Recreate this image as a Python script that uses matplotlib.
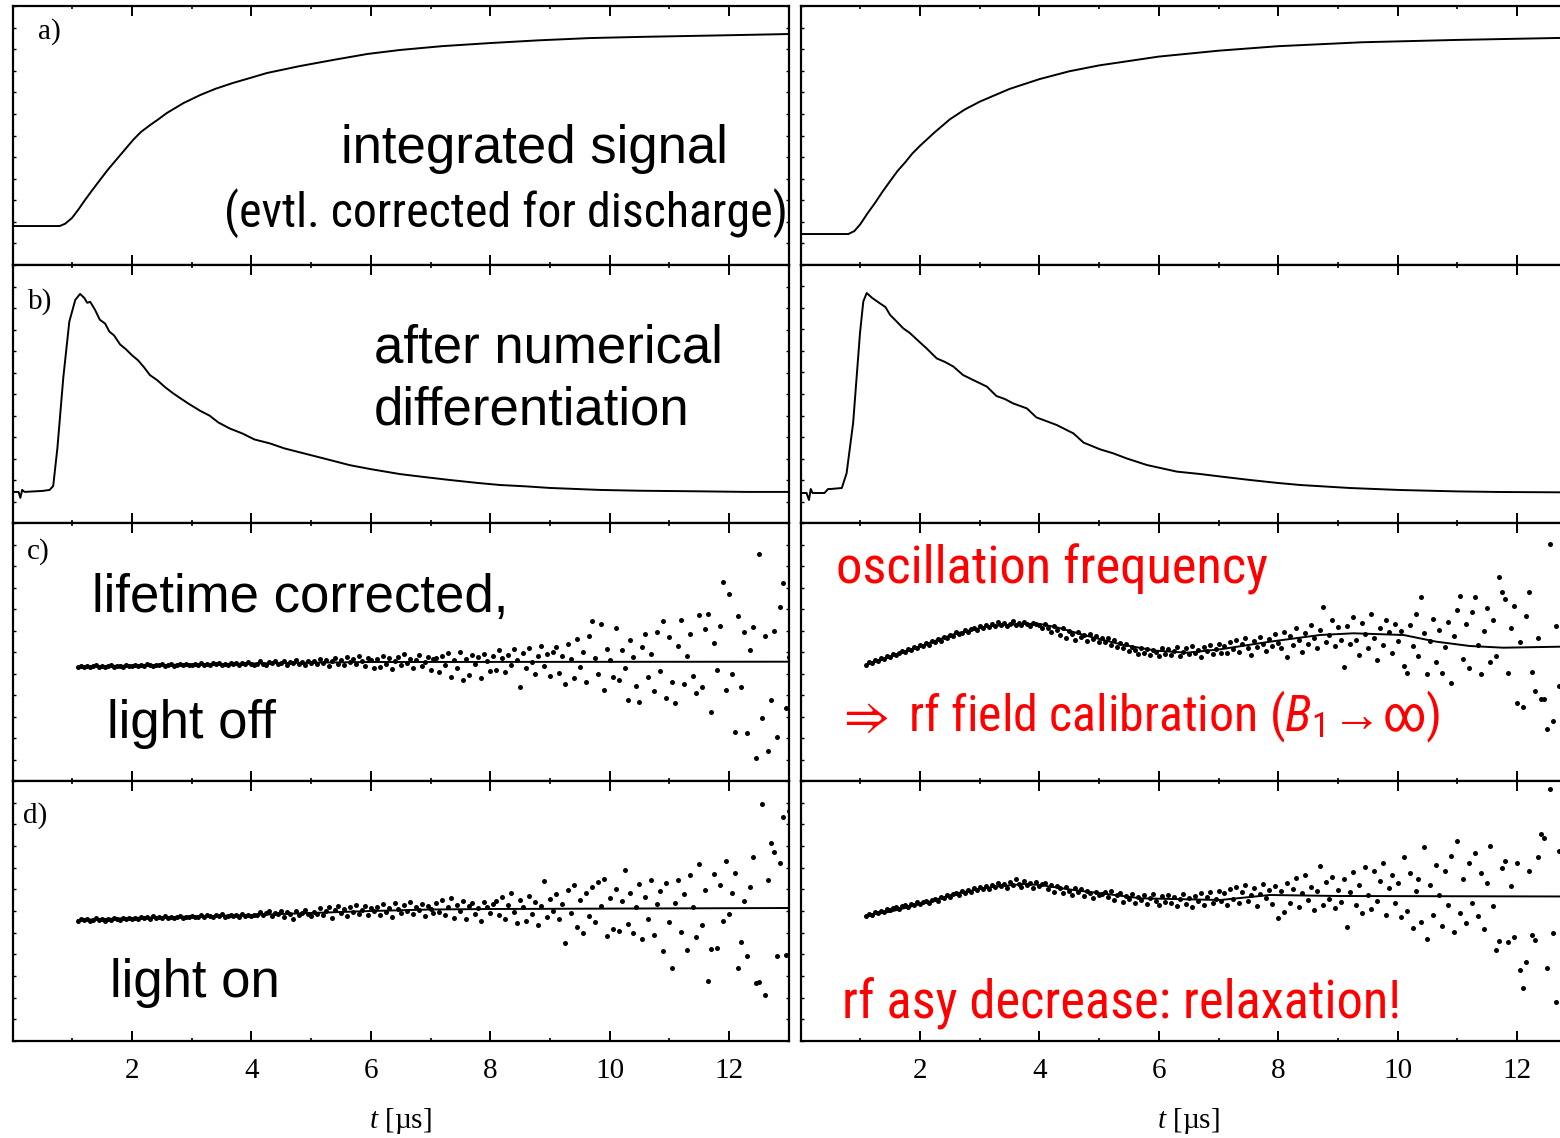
import numpy as np
import matplotlib
matplotlib.use('Agg')
import matplotlib.pyplot as plt
from matplotlib.ticker import MultipleLocator, LinearLocator, NullLocator
from matplotlib.font_manager import FontProperties, findfont


def pick_narrow():
    # a condensed sans face like Arial Narrow, if there is one
    for fam in ['Liberation Sans Narrow', 'Roboto Condensed', 'Open Sans Condensed']:
        try:
            findfont(FontProperties(family=fam), fallback_to_default=False)
            return fam, 'normal'
        except Exception:
            pass
    p = findfont(FontProperties(family='DejaVu Sans', stretch='condensed'))
    if 'Condensed' in p:
        return 'DejaVu Sans', 'condensed'
    return 'Liberation Sans', 'normal'


NARROW, STRETCH = pick_narrow()

plt.rcParams['mathtext.fontset'] = 'custom'
plt.rcParams['mathtext.rm'] = 'Liberation Serif'
plt.rcParams['mathtext.it'] = 'Liberation Serif:italic'
plt.rcParams['mathtext.sf'] = NARROW + ':italic' + (':condensed' if STRETCH == 'condensed' else '')
plt.rcParams['mathtext.tt'] = NARROW + (':condensed' if STRETCH == 'condensed' else '')
plt.rcParams['mathtext.fallback'] = 'stixsans'

# ---- a) integrated signal ----
a_left_t = [0.0, 0.79, 0.88, 0.995, 1.1, 1.2, 1.33, 1.464, 1.6, 1.75, 1.9, 2.017, 2.15, 2.3,
            2.45, 2.586, 2.86, 3.14, 3.4, 3.69, 4.0, 4.26, 4.81, 5.37, 5.94, 6.49, 7.2, 8.0,
            8.8, 9.67, 10.5, 11.35, 12.2, 13.0]
a_left_v = [0.0, 0.0, 0.012, 0.042, 0.085, 0.13, 0.185, 0.24, 0.295, 0.35, 0.405, 0.448, 0.49, 0.525,
            0.558, 0.589, 0.64, 0.682, 0.715, 0.745, 0.773, 0.797, 0.833, 0.865, 0.896, 0.917, 0.937, 0.953,
            0.967, 0.979, 0.985, 0.99, 0.995, 1.0]
a_right_t = [0.0, 0.8, 0.9, 1.0, 1.12, 1.25, 1.37, 1.5, 1.62, 1.75, 1.87, 2.0, 2.25, 2.5, 2.75,
             3.0, 3.5, 4.0, 4.5, 5.0, 6.0, 7.0, 8.0, 9.4, 11.0, 12.7, 13.0]
a_right_v = [0.0, 0.0, 0.015, 0.05, 0.105, 0.16, 0.215, 0.27, 0.32, 0.365, 0.41, 0.45, 0.52, 0.585, 0.635,
             0.675, 0.74, 0.79, 0.83, 0.86, 0.905, 0.935, 0.958, 0.978, 0.99, 1.0, 1.0]

# ---- b) numerical derivative ----
b_left_t = [0.0, 0.1, 0.13, 0.16, 0.2, 0.5, 0.62, 0.68, 0.75, 0.85, 0.95, 1.05, 1.13, 1.2,
            1.25, 1.3, 1.38, 1.46, 1.55, 1.62, 1.70, 1.80, 1.90, 2.0, 2.1, 2.2, 2.3, 2.42,
            2.55, 2.68, 2.80, 2.95, 3.14, 3.3, 3.45, 3.64, 3.85, 4.05, 4.31, 4.55, 4.81, 5.2,
            5.65, 6.0, 6.49, 6.9, 7.33, 7.8, 8.16, 8.6, 9.0, 9.84, 10.5, 11.5, 12.3, 13.0]
b_left_v = [0.0, 0.0, -0.03, 0.01, 0.0, 0.005, 0.01, 0.03, 0.22, 0.58, 0.86, 0.97, 1.0, 0.98,
            0.955, 0.96, 0.92, 0.87, 0.85, 0.81, 0.79, 0.745, 0.72, 0.69, 0.665, 0.63, 0.59, 0.565,
            0.53, 0.50, 0.475, 0.445, 0.41, 0.385, 0.35, 0.32, 0.295, 0.265, 0.245, 0.22, 0.20, 0.17,
            0.135, 0.115, 0.09, 0.075, 0.06, 0.045, 0.035, 0.028, 0.02, 0.01, 0.006, 0.003, 0.0, 0.0]
b_right_t = [0.0, 0.1, 0.14, 0.17, 0.2, 0.4, 0.46, 0.5, 0.69, 0.77, 0.88, 0.995, 1.05, 1.107,
             1.2, 1.33, 1.42, 1.50, 1.60, 1.72, 1.83, 1.945, 2.11, 2.28, 2.42, 2.56, 2.72, 2.89,
             3.12, 3.28, 3.42, 3.56, 3.79, 3.95, 4.29, 4.57, 4.74, 5.02, 5.24, 5.46, 5.80, 6.30,
             6.69, 7.1, 7.53, 8.0, 8.37, 9.2, 10.04, 11.0, 11.72, 13.0]
b_right_v = [0.0, 0.0, -0.035, 0.02, 0.0, 0.0, 0.02, 0.02, 0.025, 0.098, 0.35, 0.8, 0.957, 1.0,
             0.975, 0.948, 0.93, 0.89, 0.86, 0.823, 0.80, 0.768, 0.723, 0.673, 0.655, 0.632, 0.59, 0.565,
             0.532, 0.485, 0.47, 0.448, 0.423, 0.378, 0.34, 0.298, 0.252, 0.218, 0.198, 0.173, 0.14, 0.107,
             0.095, 0.08, 0.065, 0.05, 0.04, 0.025, 0.015, 0.008, 0.005, 0.003]

# ---- c), d) lifetime corrected asymmetry: fits and data ----
c_left_fit_t = [1.1, 2.0, 3.0, 4.0, 5.0, 6.0, 13.0]
c_left_fit_v = [-0.45, -0.35, -0.25, -0.15, -0.07, 0.0, 0.03]
d_left_fit_t = [1.1, 2.0, 3.0, 4.0, 5.0, 6.0, 7.0, 8.0, 13.0]
d_left_fit_v = [-1.1, -0.9, -0.75, -0.6, -0.4, -0.2, -0.05, 0.0, 0.1]
c_right_fit_t = [1.13, 1.50, 2.06, 2.61, 3.17, 3.73, 4.01, 4.29, 4.85, 5.41, 5.96, 6.47, 7.03,
                 7.86, 8.70, 9.26, 10.1, 10.65, 11.21, 11.77, 12.72, 13.0]
c_right_fit_v = [-1.33, -0.67, 0.5, 1.67, 2.4, 2.6, 2.6, 2.27, 1.33, 0.5, -0.07, -0.27, 0.07,
                 0.83, 1.5, 1.67, 1.5, 0.83, 0.4, 0.23, 0.33, 0.4]
d_right_fit_t = [1.13, 1.50, 2.06, 2.61, 3.17, 3.73, 4.01, 4.57, 5.13, 5.69, 6.47, 7.03, 7.86, 9.0, 13.0]
d_right_fit_v = [-1.8, -1.47, -0.63, 0.37, 0.97, 1.3, 1.2, 0.7, 0.3, -0.13, -0.23, -0.3, 0.2, 0.1, 0.05]

# data points sampled every 0.05 us starting at 1.10 us (one row = 1 us)
T0 = 1.10
DT = 0.05
c_left_pts = [
    -0.5, -0.4, -0.45, -0.35, -0.5, -0.4, -0.3, -0.45, -0.4, -0.5, -0.35, -0.3, -0.45, -0.4, -0.35, -0.45, -0.3, -0.4, -0.35, -0.3,
    -0.4, -0.25, -0.35, -0.2, -0.3, -0.4, -0.25, -0.3, -0.2, -0.35, -0.3, -0.2, -0.35, -0.25, -0.15, -0.3, -0.2, -0.3, -0.25, -0.15,
    -0.3, -0.1, -0.25, -0.15, -0.3, -0.1, -0.2, -0.05, -0.25, -0.15, -0.3, -0.1, -0.2, -0.05, -0.25, -0.1, -0.2, 0.0, -0.15, -0.25,
    -0.2, 0.1, -0.15, -0.3, 0.0, -0.1, 0.15, -0.2, -0.05, 0.1, -0.25, 0.0, -0.1, 0.2, -0.15, 0.05, -0.3, 0.1, -0.05, 0.15,
    -0.2, 0.3, -0.1, 0.2, -0.35, 0.1, 0.4, -0.15, 0.25, -0.3, 0.5, 0.0, 0.3, -0.2, 0.6, 0.1, -0.4, 0.45, 0.2, -0.6,
    0.3, -0.5, 0.6, -0.2, 0.4, -0.7, 0.1, 0.5, -0.3, 0.8, -0.1, 0.3, -0.6, 0.2, 0.7, -0.4, 0.0, 0.5, -0.8, 0.3,
    0.4, -1.0, 0.6, -0.3, 0.9, -1.5, 0.2, -0.6, 1.0, -1.8, 0.3, -1.3, 0.7, -0.2, 0.5, -1.6, 0.8, 0.1, -0.9, 0.6,
    -0.8, 1.2, 0.4, -1.0, 0.7, -0.3, 1.3, 0.2, -2.5, 0.9, -0.6, 1.4, 0.0, -1.2, 0.6, 1.6, -0.4, 0.8, -1.4, 1.0,
    1.5, -1.1, 0.6, -2.2, 1.8, 0.3, -1.6, 2.3, -0.5, 1.0, -2.0, 2.6, 4.1, 0.4, -1.2, 3.8, -2.8, 1.3, 0.2, -1.5,
    3.4, -1.8, 1.2, -0.6, -3.8, 2.2, 0.5, -2.4, -4.0, 1.5, 2.8, -1.5, 0.8, -2.9, 3.0, -0.9, 4.1, -3.6, 2.5, -2.0,
    -4.1, 1.6, 4.2, -2.2, 0.6, 2.8, -1.4, -3.1, 4.7, -2.5, 3.3, 4.8, -5.0, 1.9, -0.8, 3.6, 8.0, -2.8, 6.8, -1.2,
    -7.0, 4.6, -2.5, 3.0, -7.1, 1.2, 3.5, -9.6, 10.8, -5.6, 2.6, -8.9, -3.8, 3.1, -7.5, 5.5, 7.9, -4.6, 0.5, -2.0,
]
d_left_pts = [
    -1.2, -1.0, -1.1, -0.95, -1.15, -1.05, -0.9, -1.1, -1.0, -1.15, -0.95, -1.05, -0.85, -1.0, -1.1, -0.9, -1.0, -0.85, -0.95, -0.9,
    -0.95, -0.75, -0.9, -0.8, -0.95, -0.7, -0.85, -0.8, -0.9, -0.7, -0.85, -0.75, -0.9, -0.8, -0.7, -0.85, -0.75, -0.8, -0.65, -0.8,
    -0.8, -0.6, -0.75, -0.55, -0.7, -0.8, -0.6, -0.7, -0.5, -0.75, -0.65, -0.55, -0.7, -0.6, -0.8, -0.5, -0.65, -0.55, -0.7, -0.6,
    -0.6, -0.3, -0.55, -0.4, -0.2, -0.65, -0.35, -0.5, -0.15, -0.8, -0.3, -0.45, -0.95, -0.2, -0.6, -0.35, -0.1, -0.5, -0.7, -0.25,
    -0.5, 0.1, -0.6, -0.2, 0.2, -0.9, -0.1, 0.3, -0.4, 0.0, -0.7, 0.2, -0.3, 0.4, -0.5, -0.1, 0.3, -0.6, 0.1, -0.2,
    0.2, -0.6, 0.5, -0.3, 0.1, -0.8, 0.6, 0.0, -0.4, 0.4, -0.2, 0.7, -0.5, 0.2, -0.1, 0.5, -0.7, 0.3, 0.0, -0.4,
    0.6, -0.3, 0.9, -0.6, 0.2, 1.1, -0.9, 0.4, -0.2, 0.8, -1.0, 0.3, 0.6, -0.5, 0.1, -1.2, 0.7, 0.2, -0.4, 0.5,
    0.8, -0.6, 1.2, -1.0, 0.4, 1.6, -0.3, -1.4, 0.9, 0.2, -1.2, 1.3, -0.5, 0.7, -1.6, 0.3, 2.8, -0.8, 1.0, -0.2,
    1.5, -1.0, 0.5, -3.4, 1.9, -0.4, 2.4, -1.8, 0.9, -2.4, 1.6, -0.7, 2.2, -1.3, 2.7, 0.3, 3.0, -2.7, 1.1, -2.0,
    2.0, -2.2, 0.8, 3.9, -1.5, 1.6, -2.4, 0.2, 2.5, -3.0, 1.2, -1.0, 2.9, -2.6, 0.5, 1.8, -4.2, 2.6, -1.3, -5.9,
    0.6, 2.9, -2.3, 1.5, -4.1, 3.4, 0.2, -2.8, 4.5, -1.6, 1.9, -7.2, -4.0, 3.5, -3.9, 2.4, -1.2, 4.8, -0.5, 1.6,
    3.6, -5.9, -3.3, 0.8, -4.7, 2.2, 5.2, -7.4, -7.3, 10.5, -8.6, 2.9, 6.6, 5.7, -4.7, 4.6, 9.2, -4.6, 9.8, 6.2,
]
c_right_pts = [
    -1.5, -1.2, -1.3, -1.0, -1.1, -0.8, -0.9, -0.6, -0.7, -0.4, -0.5, -0.3, -0.1, -0.2, 0.1, 0.0, 0.3, 0.2, 0.5, 0.4,
    0.7, 0.5, 0.9, 0.8, 1.1, 0.9, 1.3, 1.2, 1.5, 1.4, 1.8, 1.6, 1.7, 2.0, 1.8, 2.1, 2.2, 2.0, 2.4, 2.2,
    2.5, 2.3, 2.6, 2.4, 2.8, 2.5, 2.7, 2.4, 2.6, 2.9, 2.5, 2.7, 2.5, 2.8, 2.6, 2.4, 2.7, 2.6, 2.5, 2.2,
    2.6, 2.2, 1.8, 2.4, 2.0, 1.5, 2.2, 1.2, 1.9, 1.6, 1.0, 1.8, 1.3, 1.5, 0.9, 1.6, 1.1, 1.4, 0.8, 1.2,
    0.8, 1.2, 0.5, 1.0, 0.3, 0.7, 0.2, 0.6, -0.1, 0.3, 0.0, -0.4, 0.2, -0.3, 0.1, -0.5, 0.0, -0.2, -0.6, 0.2,
    -0.4, 0.1, -0.5, -0.1, 0.3, -0.6, -0.2, 0.2, -0.4, 0.4, -0.3, 0.0, -0.7, 0.3, -0.1, 0.5, -0.4, 0.1, 0.6, -0.3,
    0.4, -0.3, 0.8, 0.1, 1.0, -0.2, 0.6, 1.2, 0.2, -0.5, 0.9, 0.3, 1.3, 0.6, -0.1, 1.1, 0.4, 1.6, 0.7, 0.2,
    1.8, -0.7, 1.4, 0.5, 2.2, 1.0, -0.2, 1.7, 0.6, 2.5, 1.2, 0.2, 2.0, 4.3, 0.8, 1.5, 3.0, 0.4, 2.3, 1.0,
    -1.7, 2.4, 0.6, 3.3, 1.0, -0.5, 2.7, 1.6, 0.2, 3.6, 1.2, -1.0, 2.2, 0.5, 3.0, 1.8, -0.3, 2.6, 0.9, 1.9,
    -1.6, -2.3, 2.5, 0.4, 3.6, -0.6, 5.3, 1.7, -2.4, 0.9, 3.1, -1.2, 2.0, -2.3, 0.3, 2.8, -3.3, 1.4, 4.0, 5.4,
    -0.9, 2.6, -1.8, 3.8, 5.3, 0.5, -2.4, 1.9, 4.2, -1.2, 3.0, -0.6, 7.3, 5.8, 5.1, -2.3, 2.2, 4.4, -5.3, 0.8,
    -5.7, 3.4, 5.8, -2.2, -4.1, 1.2, -4.9, -4.9, -7.9, 10.6, -7.1, 2.4, -3.6, 5.3, 8.7, -1.5, 3.6, -2.8, 6.2, 0.0,
]
d_right_pts = [
    -1.9, -1.7, -1.8, -1.5, -1.6, -1.4, -1.5, -1.2, -1.3, -1.1, -1.0, -1.2, -0.9, -0.8, -1.0, -0.7, -0.8, -0.5, -0.7, -0.5,
    -0.4, -0.6, -0.3, -0.2, -0.4, 0.0, -0.1, 0.2, 0.0, 0.3, 0.4, 0.2, 0.6, 0.4, 0.7, 0.5, 0.9, 0.7, 1.0, 0.8,
    1.1, 0.8, 1.2, 1.0, 1.4, 1.1, 1.3, 0.9, 1.5, 1.2, 1.8, 1.3, 1.0, 1.6, 1.2, 1.4, 0.9, 1.5, 1.1, 1.3,
    1.4, 0.8, 1.2, 0.5, 1.1, 0.9, 0.4, 1.0, 0.6, 0.2, 0.9, 0.5, 0.8, 0.1, 0.6, 0.4, -0.1, 0.5, 0.2, 0.3,
    0.5, 0.0, 0.6, -0.3, 0.2, 0.4, -0.5, 0.1, -0.2, 0.3, -0.6, 0.0, -0.3, 0.2, -0.7, -0.1, 0.3, -0.4, -0.8, 0.1,
    -0.5, 0.2, -0.6, 0.0, -0.9, -0.2, 0.3, -0.7, -0.1, -1.0, 0.1, -0.4, 0.4, -0.8, 0.0, 0.5, -0.6, -0.2, 0.6, -0.4,
    0.4, -0.8, 0.8, -0.2, 1.0, -0.6, 0.5, 1.2, -0.4, 0.2, 0.9, -0.9, 0.3, 1.3, -0.1, 0.7, -0.7, 1.1, -2.1, 0.6,
    -1.5, 1.4, -0.6, 0.8, 1.9, -1.0, 0.4, 2.2, -0.3, 1.0, -1.3, 0.6, 3.1, -0.8, 1.5, -0.2, 2.0, -1.1, 0.7, -0.5,
    1.8, -3.0, 0.5, 2.5, -0.8, 1.2, -1.6, 3.0, 0.2, -1.2, 2.6, -0.4, 1.6, 3.4, -1.8, 0.9, 2.2, -0.6, 1.4, -2.0,
    4.0, -1.4, 2.4, -3.1, 0.6, 1.8, -2.5, 5.0, -4.2, 1.2, -1.8, 3.2, 0.2, -2.9, 2.6, -0.8, 4.1, -3.5, 5.6, -1.6,
    1.8, -2.6, 3.4, -0.6, 4.4, -1.9, 2.4, -3.2, 1.4, 5.1, -0.9, -5.3, -4.4, 2.9, 3.6, -4.5, 1.1, -4.0, 3.4, -7.3,
    -9.1, -6.5, 2.6, -3.8, -4.3, 4.0, 6.3, 5.9, -7.1, 10.8, -3.6, -10.5, 4.6, -11.8, -8.0, 8.5, -3.0, 6.2, -5.5, 2.0,
]

tick_labels = ['2', '4', '6', '8', '10', '12']

fig = plt.figure(figsize=(15.6, 11.38), dpi=100)

W, H = 1560.0, 1138.0
col_left = [12.6, 800.6]
col_width = 776.1
rows = [(6, 265), (265, 523), (523, 781), (781, 1041)]
ylims = [[(-0.203, 1.146), (-0.158, 1.163)],
         [(-0.157, 1.146), (-0.15, 1.14)],
         [(-11.9, 13.9), (-13.1, 12.7)],
         [(-13.2, 12.8), (-14.4, 11.6)]]

axes = [[None, None] for _ in rows]
for r, (top, bot) in enumerate(rows):
    for c in range(2):
        ax = fig.add_axes([col_left[c] / W, 1 - bot / H, col_width / W, (bot - top) / H])
        ax.set_xlim(0, 13)
        ax.set_ylim(*ylims[r][c])
        for sp in ax.spines.values():
            sp.set_linewidth(1.6)
        ax.xaxis.set_major_locator(MultipleLocator(2))
        ax.xaxis.set_minor_locator(MultipleLocator(1))
        ax.yaxis.set_major_locator(NullLocator())
        ax.yaxis.set_minor_locator(LinearLocator(13))
        ax.tick_params(axis='x', which='major', direction='in', length=7, width=1.4,
                       top=True, bottom=True)
        ax.tick_params(axis='x', which='minor', direction='in', length=2.5, width=1.2,
                       top=True, bottom=True)
        ax.tick_params(axis='y', which='minor', direction='in', length=2, width=1.0,
                       left=True, right=True)
        if r == 3:
            ax.set_xticks([2, 4, 6, 8, 10, 12])
            ax.set_xticklabels(tick_labels, fontfamily='Liberation Serif', fontsize=21)
            ax.tick_params(axis='x', which='major', pad=12)
            ax.set_xlabel(r'$t$ [µs]', fontfamily='Liberation Serif', fontsize=21, labelpad=16)
        else:
            ax.set_xticklabels([])
        axes[r][c] = ax

line_kw = dict(color='black', lw=1.4)
axes[0][0].plot(a_left_t, a_left_v, **line_kw)
axes[0][1].plot(a_right_t, a_right_v, **line_kw)
axes[1][0].plot(b_left_t, b_left_v, **line_kw)
axes[1][1].plot(b_right_t, b_right_v, **line_kw)

fits = [(c_left_fit_t, c_left_fit_v, c_left_pts, axes[2][0]),
        (c_right_fit_t, c_right_fit_v, c_right_pts, axes[2][1]),
        (d_left_fit_t, d_left_fit_v, d_left_pts, axes[3][0]),
        (d_right_fit_t, d_right_fit_v, d_right_pts, axes[3][1])]
for ft, fv, pts, ax in fits:
    tt = T0 + DT * np.arange(len(pts))
    ax.plot(tt, pts, 'o', color='black', ms=3.6, mec='none')
    ax.plot(ft, fv, **line_kw)

# panel letters
serif = dict(fontfamily='Liberation Serif', fontsize=21, ha='center', va='center')
axes[0][0].text(0.048, 0.90, 'a)', transform=axes[0][0].transAxes, **serif)
axes[1][0].text(0.035, 0.857, 'b)', transform=axes[1][0].transAxes, **serif)
axes[2][0].text(0.033, 0.891, 'c)', transform=axes[2][0].transAxes, **serif)
axes[3][0].text(0.029, 0.869, 'd)', transform=axes[3][0].transAxes, **serif)

sans = dict(fontfamily='Liberation Sans', fontsize=38, ha='left', va='baseline')
narrow = dict(fontfamily=[NARROW, 'DejaVu Sans'], fontstretch=STRETCH, fontsize=40,
              ha='left', va='baseline')
axes[0][0].text(0.423, 0.393, 'integrated signal', transform=axes[0][0].transAxes, **sans)
t_evtl = axes[0][0].text(0.2727, 0.147, '(evtl. corrected for discharge)',
                         transform=axes[0][0].transAxes, **narrow)
axes[1][0].text(0.4657, 0.624, 'after numerical', transform=axes[1][0].transAxes, **sans)
axes[1][0].text(0.4657, 0.380, 'differentiation', transform=axes[1][0].transAxes, **sans)
axes[2][0].text(0.102, 0.656, 'lifetime corrected,', transform=axes[2][0].transAxes, **sans)
axes[2][0].text(0.122, 0.165, 'light off', transform=axes[2][0].transAxes, **sans)
axes[3][0].text(0.125, 0.170, 'light on', transform=axes[3][0].transAxes, **sans)

t_osc = axes[2][1].text(0.0456, 0.766, 'oscillation frequency', color='#ff0000',
                        transform=axes[2][1].transAxes, **narrow)
t_cal = axes[2][1].text(0.0456, 0.191,
                        '$\\Rightarrow$ rf field calibration ($\\mathsf{B}_{\\mathtt{1}}\\!\\rightarrow\\!$∞)',
                        color='#ff0000', transform=axes[2][1].transAxes, **narrow)
t_rel = axes[3][1].text(0.053, 0.087, 'rf asy decrease: relaxation!', color='#ff0000',
                        transform=axes[3][1].transAxes, **narrow)

# squeeze the narrow-font texts to the widths they have in the original
fig.canvas.draw()
renderer = fig.canvas.get_renderer()
for txt, target in [(t_evtl, 563), (t_osc, 432), (t_cal, 604), (t_rel, 560)]:
    w = txt.get_window_extent(renderer).width
    txt.set_fontsize(txt.get_fontsize() * target / w)

fig.savefig('out.png', dpi=100)
